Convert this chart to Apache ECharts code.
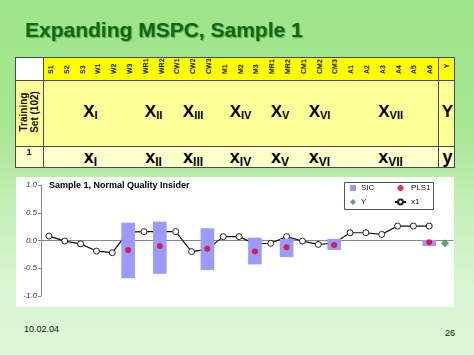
<!DOCTYPE html>
<html>
<head>
<meta charset="utf-8">
<script src="https://cdn.jsdelivr.net/npm/echarts@6/dist/echarts.min.js"></script>
<style>
  html, body { margin:0; padding:0; }
  body { width:474px; height:355px; overflow:hidden; position:relative;
    font-family: Arial, "Liberation Sans", Helvetica, sans-serif;
    background: linear-gradient(to bottom, #9ee48a 0%, #a6e792 35%, #c8f0bd 62%, #d9f6d2 82%, #def7d8 100%); }
  .abs { position:absolute; white-space:nowrap; }
  #title { left:25px; top:19px; font-size:21px; line-height:21px; font-weight:bold; color:#0b6a10;
    text-shadow: 1px 1px 1px rgba(0,50,0,0.35); }
  .hdr { font-size:7px; line-height:8px; font-weight:bold; color:#111; transform-origin:0 0; }
  .big { font-size:17px; line-height:17px; font-weight:bold; color:#000; transform:translateX(-50%); }
  .big sub { font-size:11px; vertical-align:-2px; line-height:0; }
  .small { font-size:18px; line-height:18px; font-weight:bold; color:#000; transform:translateX(-50%); }
  .small sub { font-size:12px; vertical-align:-2.5px; line-height:0; }
  .foot { font-size:9px; line-height:9px; color:#111; }
  #chart { position:absolute; left:16px; top:177px; width:438px; height:130px; }
</style>
</head>
<body>
<div id="title" class="abs">Expanding MSPC, Sample 1</div>
<div id="table"></div>
<div id="chart"></div>
<div class="abs foot" style="left:24px;top:325px;">10.02.04</div>
<div class="abs foot" style="left:445px;top:329px;">26</div>
<script>
// ---- data ----
const categories = ['S1','S2','S3','W1','W2','W3','WR1','WR2','CW1','CW2','CW3','M1','M2','M3','MR1','MR2','CM1','CM2','CM3','A1','A2','A3','A4','A5','A6','Y'];
const groupSubs = ['I','II','III','IV','V','VI','VII'];
const groupSpans = [6,2,3,3,2,3,6];
const x1Values = [0.08,-0.01,-0.06,-0.19,-0.22,0.15,0.16,0.16,0.16,-0.2,-0.16,0.07,0.07,-0.06,-0.05,0.07,-0.01,-0.07,-0.05,0.14,0.14,0.11,0.26,0.26,0.26,null];
const sicIndex = [5,7,10,13,15,18,24];
const sicHigh = [0.32,0.34,0.22,0.05,0.03,0.03,0.01];
const sicLow = [-0.68,-0.6,-0.53,-0.43,-0.3,-0.17,-0.1];
const pls1Values = [-0.17,-0.1,-0.15,-0.2,-0.12,-0.08,-0.03];
const yIndex = [25];
const yValues = [-0.05];
const yTickMin = -1, yTickMax = 1, yTickStep = 0.5;

// ---- table (slide header) ----
(function(){
  const t = document.getElementById('table');
  const L = 15, R = 455, C0 = 43, CY = 438, T0 = 57, T1 = 80, T2 = 146, T3 = 168;
  const cw = (CY - C0) / 25;
  function box(x, y, w, h, bg) {
    const d = document.createElement('div');
    d.className = 'abs';
    d.style.cssText = `left:${x}px;top:${y}px;width:${w}px;height:${h}px;background:${bg};`;
    t.appendChild(d); return d;
  }
  function text(html, cls, css) {
    const d = document.createElement('div');
    d.className = 'abs ' + cls; d.innerHTML = html; d.style.cssText += css;
    t.appendChild(d); return d;
  }
  box(L, T0, C0 - L, T1 - T0, '#ffffff');
  box(C0, T0, R - C0, T1 - T0, '#ffff00');
  box(L, T1, R - L, T2 - T1, '#ffff99');
  box(L, T2, R - L, T3 - T2, '#ffffcc');
  const lc = '#4a4a4a';
  box(L, T1, R - L, 1, lc); box(L, T2, R - L, 1, lc);
  box(C0, T0, 1, T3 - T0, lc); box(CY, T0, 1, T3 - T0, lc);
  const outer = box(L, T0, R - L, T3 - T0, 'transparent');
  outer.style.boxSizing = 'border-box'; outer.style.border = '1px solid ' + lc;
  // header labels
  categories.forEach((c, i) => {
    if (i < 25) {
      const cx = C0 + cw * i + cw / 2;
      text(c, 'hdr', `left:${cx}px;top:74px;transform:rotate(-90deg) translate(0,-50%);`);
    } else {
      const cx = (CY + R) / 2 + 0.5;
      text(c, 'hdr', `left:${cx}px;top:66px;transform:rotate(-90deg) translate(-50%,-50%);`);
    }
  });
  // group labels
  let start = 0;
  groupSpans.forEach((s, g) => {
    const cx = C0 + cw * (start + s / 2);
    text('X<sub>' + groupSubs[g] + '</sub>', 'big', `left:${cx}px;top:103px;`);
    text('x<sub>' + groupSubs[g] + '</sub>', 'small', `left:${cx}px;top:148px;`);
    start += s;
  });
  const ycx = (CY + R) / 2 + 1;
  text('Y', 'big', `left:${ycx}px;top:103px;`);
  text('y', 'small', `left:${ycx}px;top:148px;`);
  text('Training<br>Set (102)', 'hdr', `left:29px;top:112px;font-size:10px;line-height:11px;text-align:center;transform:rotate(-90deg) translate(-50%,-50%);`);
  text('1', 'hdr', `left:29px;top:152px;font-size:9px;line-height:9px;transform:translate(-50%,-50%);`);
})();

// ---- chart ----
const chart = echarts.init(document.getElementById('chart'), null, {renderer:'canvas'});
const font = 'Arial, "Liberation Sans", sans-serif';
const sicData = sicIndex.map((i, k) => [i, sicHigh[k], sicLow[k]]);
const plsData = sicIndex.map((i, k) => [i, pls1Values[k]]);
const yData = yIndex.map((i, k) => [i, yValues[k]]);
chart.setOption({
  backgroundColor: '#ffffff',
  animation: false,
  textStyle: { fontFamily: font },
  title: { text: 'Sample 1, Normal Quality Insider', left: 33, top: 4, padding: 0,
    textStyle: { fontSize: 9, fontWeight: 'bold', color: '#000', fontFamily: font } },
  legend: [
    { data: [{name:'SIC', icon:'rect'}, {name:'Y', icon:'diamond'}], orient: 'vertical',
      left: 334, top: 6, padding: 0, itemWidth: 6, itemHeight: 6, itemGap: 4,
      textStyle: { fontSize: 8, color: '#111', lineHeight: 10, fontFamily: font } },
    { data: ['PLS1', 'x1'], orient: 'vertical',
      left: 378, top: 6, padding: 0, itemWidth: 11, itemHeight: 6, itemGap: 4,
      textStyle: { fontSize: 8, color: '#111', lineHeight: 10, fontFamily: font } }
  ],
  graphic: [{ type: 'rect', left: 326, top: 3, z: 100,
    shape: { width: 89, height: 27 }, style: { fill: 'none', stroke: '#555', lineWidth: 1 } }],
  grid: { left: 25, right: 1, top: 8, bottom: 11 },
  xAxis: { type: 'category', data: categories, boundaryGap: true,
    axisLine: { onZero: true, lineStyle: { color: '#888', width: 1 } },
    axisTick: { show: false }, axisLabel: { show: false }, splitLine: { show: false } },
  yAxis: { type: 'value', min: yTickMin, max: yTickMax, interval: yTickStep,
    axisLine: { show: true, lineStyle: { color: '#888' } },
    axisTick: { show: true, length: 3, lineStyle: { color: '#888' } },
    axisLabel: { formatter: v => v.toFixed(1), fontStyle: 'italic', fontSize: 8, color: '#333', margin: 4, fontFamily: font },
    splitLine: { show: false } },
  series: [
    { name: 'x1', type: 'line', data: x1Values, z: 2, showAllSymbol: true,
      symbol: 'circle', symbolSize: 6,
      lineStyle: { color: '#111', width: 1.2 },
      itemStyle: { color: '#ffffff', borderColor: '#222', borderWidth: 1 } },
    { name: 'SIC', type: 'custom', data: sicData, z: 3,
      encode: { x: 0, y: [1, 2] },
      itemStyle: { color: '#9a9aff' },
      renderItem: function (params, api) {
        const i = api.value(0);
        const p1 = api.coord([i, api.value(1)]);
        const p2 = api.coord([i, api.value(2)]);
        const w = api.size([1, 0])[0] * 0.86;
        return { type: 'rect', shape: { x: p1[0] - w / 2, y: p1[1], width: w, height: p2[1] - p1[1] },
          style: { fill: '#9a9aff' } };
      } },
    { name: 'PLS1', type: 'scatter', data: plsData, z: 4, symbol: 'circle', symbolSize: 6,
      itemStyle: { color: '#e2001f' } },
    { name: 'Y', type: 'scatter', data: yData, z: 4, symbol: 'diamond', symbolSize: 8,
      itemStyle: { color: '#2f8a5a' } }
  ]
});
</script>
</body>
</html>
